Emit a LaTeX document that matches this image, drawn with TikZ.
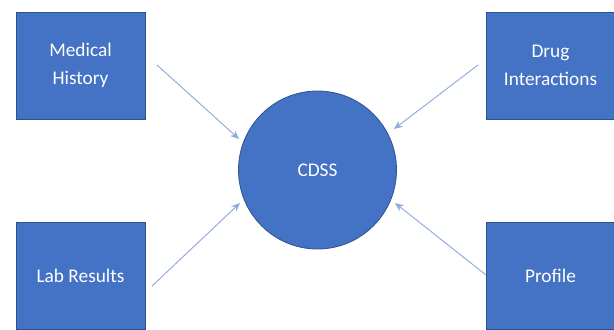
\documentclass[tikz,border=0pt]{standalone}
\usepackage{fontspec}
\setmainfont{Carlito}
\usetikzlibrary{arrows.meta}
\definecolor{boxblue}{HTML}{4472C4}
\definecolor{boxedge}{HTML}{2F528F}
\definecolor{arrowblue}{HTML}{8FAADC}
\begin{document}
\begin{tikzpicture}[x=0.75pt,y=-0.75pt,
  infobox/.style={draw=boxedge,line width=0.6pt,fill=boxblue,text=white,
    minimum width=96.75pt,minimum height=80.25pt,inner sep=0pt,align=center,
    font=\fontsize{14.5}{21}\selectfont},
  hub/.style={circle,draw=boxedge,line width=0.6pt,fill=boxblue,text=white,
    minimum size=118.5pt,inner sep=0pt,font=\fontsize{14.5}{21}\selectfont},
  link/.style={draw=arrowblue,line width=0.7pt,-{Stealth[length=6.5pt,width=5.5pt]}}]
\useasboundingbox (0,0) rectangle (614,329);
\fill[white] (0,0) rectangle (614,329);
\begin{scope}
\clip (0,0) rectangle (614,329);
\node[infobox] (mh) at (80.5,65.5) {Medical\\History};
\node[infobox] (di) at (550.5,65.5) {Drug\\Interactions};
\node[infobox] (lr) at (80.5,275.5) {Lab Results};
\node[infobox] (pr) at (550.5,275.5) {Profile};
\node[hub] (cdss) at (317.5,170) {CDSS};
\end{scope}
\coordinate (s1) at (157,65);
\coordinate (e1) at (239,139);
\coordinate (s2) at (478,65);
\coordinate (e2) at (394,129);
\coordinate (s3) at (152,286);
\coordinate (e3) at (240,203);
\coordinate (s4) at (486,275);
\coordinate (e4) at (395,203);
\draw[link] (s1) -- (e1);
\draw[link] (s2) -- (e2);
\draw[link] (s3) -- (e3);
\draw[link] (s4) -- (e4);
\end{tikzpicture}
\end{document}
